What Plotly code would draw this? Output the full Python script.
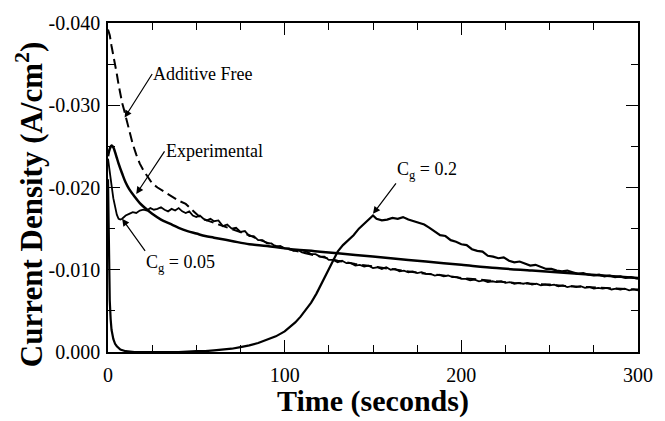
import plotly.graph_objects as go

# ---- data ----
t_free = [0, 1, 2, 3, 4, 5, 6, 7, 8, 9, 10, 12, 14, 16, 18, 20, 22, 25, 28, 31, 35, 40, 44, 47, 50, 53, 56, 60,
          65, 70, 75, 80, 85, 90, 95, 100, 110, 120, 130, 140, 150, 160, 170, 180, 190, 200, 210, 220, 230,
          240, 250, 260, 270, 280, 290, 300]
j_free = [-0.0392, -0.0385, -0.0372, -0.0362, -0.0351, -0.0338, -0.0325, -0.0313, -0.0303, -0.0295, -0.0287,
          -0.0268, -0.0253, -0.0240, -0.0229, -0.0221, -0.0214, -0.0205, -0.0200, -0.0196, -0.0190, -0.0184,
          -0.0180, -0.0174, -0.0167, -0.0162, -0.0160, -0.0157,
          -0.0153, -0.0150, -0.0146, -0.0142, -0.0137, -0.0133, -0.0129, -0.0126, -0.0121, -0.0116, -0.0111,
          -0.0107, -0.0104, -0.0101, -0.0098, -0.0095, -0.0093, -0.0090, -0.0088, -0.0086, -0.0084,
          -0.0083, -0.0082, -0.0080, -0.0079, -0.0078, -0.0077, -0.0076]

t_exp = [0, 1, 2, 3, 4, 5, 6, 8, 10, 12, 15, 18, 21, 25, 30, 35, 40, 45, 50, 55, 60, 70, 80, 90, 100,
         120, 140, 160, 180, 200, 220, 240, 260, 280, 300]
j_exp = [-0.0238, -0.0247, -0.0251, -0.0249, -0.0243, -0.0236, -0.0229, -0.0217, -0.0206, -0.0198, -0.0189,
         -0.0181, -0.0175, -0.0168, -0.0161, -0.0156, -0.0151, -0.0147, -0.0144, -0.0141, -0.0139, -0.0135,
         -0.0131, -0.0129, -0.0126, -0.0122, -0.0118, -0.0114, -0.0110, -0.0106, -0.0102, -0.0099, -0.0096,
         -0.0093, -0.0090]

t_cg005 = [0, 1, 2, 3, 4, 5, 6, 7, 8, 9, 10, 12, 14, 16, 18, 20, 22, 24, 26, 28, 30, 32, 34, 36, 38, 40,
           42, 44, 46, 48, 50, 52, 54, 56, 58,
           60, 62.5, 65, 67.5, 70, 72.5, 75, 77.5, 80, 82.5, 85, 87.5, 90, 92.5, 95, 97.5, 100, 102.5, 105,
           107.5, 110, 112.5, 115, 117.5, 120, 122.5, 125, 127.5, 130, 132.5, 135, 137.5, 140, 142.5, 145,
           147.5, 150, 152.5, 155, 157.5, 160, 162.5, 165, 167.5, 170, 172.5, 175, 177.5, 180, 182.5, 185,
           187.5, 190, 192.5, 195, 197.5, 200, 202.5, 205, 207.5, 210, 212.5, 215, 217.5, 220, 222.5, 225,
           227.5, 230, 232.5, 235, 237.5, 240, 242.5, 245, 247.5, 250, 252.5, 255, 257.5, 260, 262.5, 265,
           267.5, 270, 272.5, 275, 277.5, 280, 282.5, 285, 287.5, 290, 292.5, 295, 297.5, 300]
j_cg005 = [-0.0235, -0.0221, -0.0203, -0.0187, -0.0175, -0.0167, -0.0162, -0.0161, -0.0162, -0.0164, -0.0166,
           -0.0168, -0.0170, -0.0169, -0.0172, -0.0173, -0.0172, -0.0175, -0.0173, -0.0174, -0.0176, -0.0173,
           -0.0171, -0.0174, -0.0172, -0.0175, -0.0171, -0.0169, -0.0171, -0.0166, -0.0164, -0.0166, -0.0162,
           -0.0160, -0.0162,
           -0.0159, -0.0160, -0.0153, -0.0155, -0.0150, -0.0151, -0.0146, -0.0147, -0.0141, -0.0141, -0.0136,
           -0.0136, -0.0132, -0.0132, -0.0128, -0.0129, -0.0126, -0.0126, -0.0123, -0.0124, -0.0121, -0.0122,
           -0.0119, -0.0119, -0.0116, -0.0116, -0.0112, -0.0112, -0.0109, -0.0111, -0.0108, -0.0108, -0.0105,
           -0.0106, -0.0104, -0.0105, -0.0102, -0.0103, -0.0101, -0.0103, -0.0100, -0.0101, -0.0098, -0.0099,
           -0.0097, -0.0098, -0.0096, -0.0097, -0.0095, -0.0095, -0.0093, -0.0094, -0.0092, -0.0093, -0.0091,
           -0.0091, -0.0089, -0.0089, -0.0087, -0.0088, -0.0086, -0.0087, -0.0085, -0.0086, -0.0085, -0.0086,
           -0.0084, -0.0085, -0.0083, -0.0084, -0.0083, -0.0084, -0.0082, -0.0083, -0.0081, -0.0082, -0.0081,
           -0.0082, -0.0080, -0.0081, -0.0079, -0.0080, -0.0079, -0.0080, -0.0078, -0.0079, -0.0077, -0.0078,
           -0.0077, -0.0078, -0.0076, -0.0077, -0.0076, -0.0077, -0.0075, -0.0076, -0.0075]

t_cg02 = [0, 0.3, 0.6, 1, 1.5, 2, 3, 4, 5, 7, 10, 15, 20, 30, 40, 50, 55, 60, 65, 70, 75, 80, 85, 90, 95, 100,
          103, 106, 109, 112, 115, 118, 121, 124, 127, 130, 133, 136, 139, 142, 145, 148, 150, 152, 155, 158,
          161, 164, 167, 170, 173, 176, 179, 182, 185, 188, 191, 194, 197, 200, 203, 206, 209, 212, 215, 218,
          221, 224, 227, 230, 233, 236, 239, 242, 245, 248, 251, 254, 257, 260, 263, 266, 269, 272, 275, 278,
          281, 284, 287, 290, 293, 296, 300]
j_cg02 = [-0.0210, -0.0150, -0.0095, -0.0062, -0.0040, -0.0027, -0.0016, -0.0010, -0.0007, -0.0003, -0.0001,
          0.0, 0.0, 0.0, 0.0, -0.0001, -0.0001, -0.0002, -0.0003, -0.0004, -0.0006, -0.0008, -0.0011, -0.0015,
          -0.0019, -0.0025, -0.0030, -0.0036, -0.0043, -0.0051, -0.0060, -0.0071, -0.0084, -0.0098, -0.0111,
          -0.0122, -0.0130, -0.0136, -0.0142, -0.0150, -0.0156, -0.0163, -0.0166, -0.0162, -0.0160, -0.0161,
          -0.0163, -0.0162, -0.0164, -0.0161, -0.0159, -0.0157, -0.0155, -0.0151, -0.0146, -0.0142, -0.0141,
          -0.0136, -0.0134, -0.0131, -0.0130, -0.0125, -0.0123, -0.0122, -0.0117, -0.0116, -0.0114, -0.0115,
          -0.0111, -0.0109, -0.0110, -0.0107, -0.0105, -0.0106, -0.0103, -0.0101, -0.0101, -0.0099, -0.0098,
          -0.0099, -0.0097, -0.0095, -0.0096, -0.0094, -0.0093, -0.0094, -0.0092, -0.0093, -0.0091, -0.0092,
          -0.0090, -0.0091, -0.0089]

x_tickvals = [0, 100, 200, 300]
x_ticktext = ["0", "100", "200", "300"]
y_tickvals = [0, -0.01, -0.02, -0.03, -0.04]
y_ticktext = ["0.000", "-0.010", "-0.020", "-0.030", "-0.040"]

FONT = "Liberation Serif, Times New Roman, serif"

fig = go.Figure()
fig.add_trace(go.Scatter(x=t_free, y=j_free, mode="lines", line=dict(color="black", width=2, dash="10px,5px")))
fig.add_trace(go.Scatter(x=t_exp, y=j_exp, mode="lines", line=dict(color="black", width=2.5, shape="spline")))
fig.add_trace(go.Scatter(x=t_cg005, y=j_cg005, mode="lines", line=dict(color="black", width=1.8)))
fig.add_trace(go.Scatter(x=t_cg02, y=j_cg02, mode="lines", line=dict(color="black", width=2.2)))

# labels with arrows: (text, tail x, tail y, xanchor, yanchor, head x, head y)
labels = [
    ("Additive Free", 25, -0.0338, "left", "middle", 9.4, -0.0285),
    ("Experimental", 32, -0.0244, "left", "middle", 16, -0.0192),
    ("C<sub>g</sub> = 0.05", 21, -0.0123, "left", "top", 8, -0.0162),
    ("C<sub>g</sub> = 0.2", 163, -0.0205, "left", "bottom", 150, -0.0168),
]
for text, axx, ayy, xa, ya, hx, hy in labels:
    fig.add_annotation(x=hx, y=hy, ax=axx, ay=ayy, axref="x", ayref="y", text=text, showarrow=True,
                       xanchor=xa, yanchor=ya, borderpad=0,
                       font=dict(family=FONT, size=18, color="black"),
                       arrowhead=2, arrowsize=1.2, arrowwidth=1.2, arrowcolor="black", standoff=0)

# axis titles
fig.add_annotation(xref="paper", yref="paper", x=-0.148, y=0.448, text="<b>Current Density (A/cm<sup>2</sup>)</b>",
                   textangle=-90, showarrow=False, xanchor="center", yanchor="middle",
                   font=dict(family=FONT, size=31, color="black"))
fig.add_annotation(xref="paper", yref="paper", x=0.5, y=-0.148, text="<b>Time (seconds)</b>",
                   showarrow=False, xanchor="center", yanchor="middle",
                   font=dict(family=FONT, size=30, color="black"))

fig.update_layout(
    width=665, height=421,
    margin=dict(l=108, r=17, t=17, b=69),
    plot_bgcolor="white", paper_bgcolor="white",
    showlegend=False,
    font=dict(family=FONT, size=20, color="black"),
)
fig.update_xaxes(range=[0, 300], tickvals=x_tickvals, ticktext=x_ticktext, ticks="inside", ticklen=12,
                 tickwidth=1.3, tickcolor="black", showline=True, linewidth=1.5, linecolor="black",
                 mirror="ticks", showgrid=False, zeroline=False, ticklabelstandoff=4,
                 tickfont=dict(family=FONT, size=20, color="black"),
                 minor=dict(dtick=25, ticks="inside", ticklen=7, tickwidth=1.2, tickcolor="black", showgrid=False))
fig.update_yaxes(range=[0, -0.04], tickvals=y_tickvals, ticktext=y_ticktext, ticks="inside", ticklen=12,
                 tickwidth=1.3, tickcolor="black", showline=True, linewidth=1.5, linecolor="black",
                 mirror="ticks", showgrid=False, zeroline=False, ticklabelstandoff=2,
                 tickfont=dict(family=FONT, size=20, color="black"),
                 minor=dict(dtick=0.005, ticks="inside", ticklen=7, tickwidth=1.2, tickcolor="black", showgrid=False))

fig.write_html("out.html")
